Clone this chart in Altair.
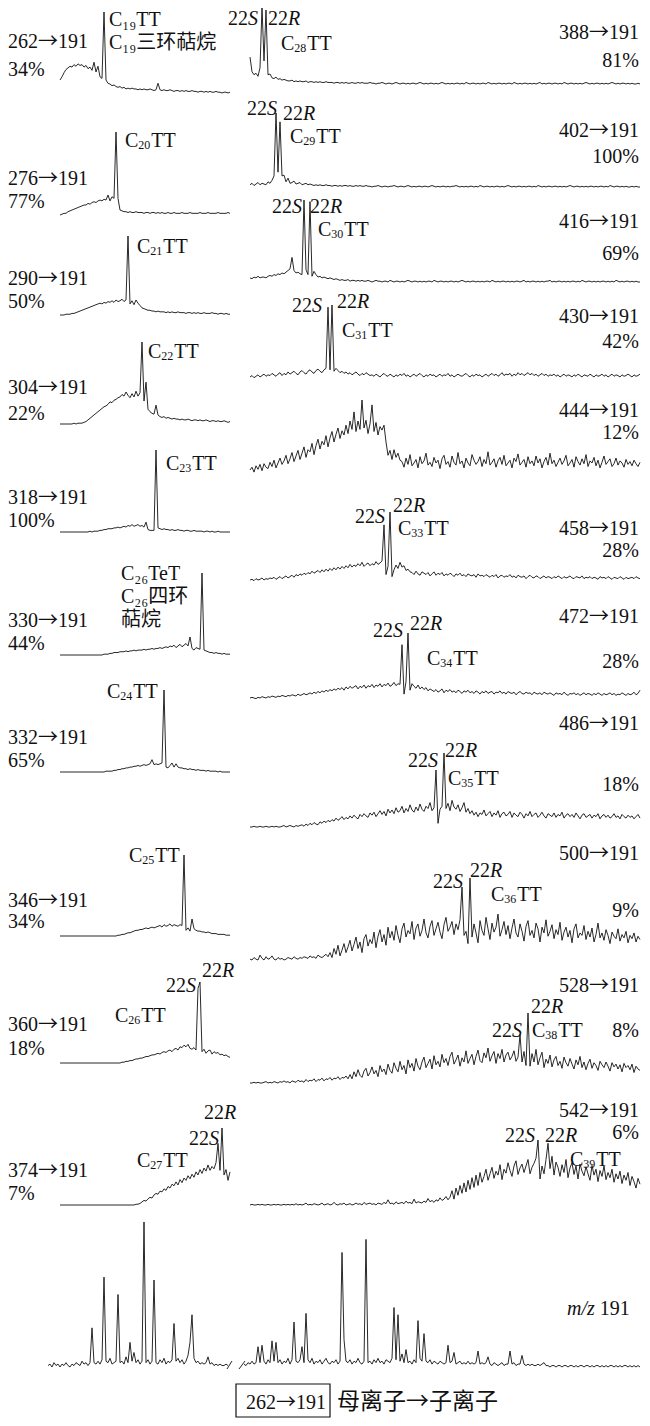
import altair as alt
import pandas as pd

# ---------------- data: relative intensity (% of tallest peak in each trace) -------------
# left column (retention window 1), 86 samples each
t262 = [16,20,25,29,31,33,32,35,33,36,34,35,32,34,30,32,28,38,26,33,20,18,
        100,
        16,12,11,9,10,8,7,8,6,7,5,6,5,
        6,5,5,4,5,4,5,4,4,5,4,3,4,
        12,
        4,3,4,3,3,4,3,2,3,3,2,3,2,3,2,2,3,2,2,1,2,2,1,2,1,2,1,1,2,1,1,0,1,1,0,1]
t276 = [0,1,2,2,4,5,6,7,8,9,10,11,
        12,12,14,13,15,16,15,17,18,17,19,18,
        24,17,22,20,
        100,20,6,
        5,4,4,3,4,3,3,4,3,3,3,2,3,3,2,3,3,2,3,2,3,2,2,3,2,2,3,2,2,2,
        3,2,2,2,3,2,2,2,2,3,2,2,2,3,2,2,2,2,3,2,2,2,2,3,2]
t290 = [0,0,0,1,1,1,
        2,2,3,4,5,6,7,8,9,10,
        11,12,13,14,15,14,16,15,17,16,
        18,16,19,17,18,20,17,19,
        100,
        14,18,13,19,15,12,
        9,8,7,6,6,5,5,4,5,4,
        4,4,3,4,3,4,3,3,4,3,3,3,2,3,3,2,3,2,3,2,2,3,2,2,2,3,2,2,1,2,2,1,2,1,1]
t304 = [0,0,0,0,0,0,0,1,0,1,1,1,2,
        3,5,7,9,11,13,15,17,
        19,21,22,24,27,26,29,30,32,33,
        36,34,39,35,32,37,33,40,34,38,
        100,28,51,
        18,15,13,12,
        23,
        11,9,8,9,7,8,7,6,7,6,6,5,6,5,5,6,5,4,5,5,4,5,4,4,5,4,3,4,4,3,4,3,3,4,3,2,3]
t318 = [0,0,0,0,0,0,0,0,0,0,0,0,0,0,0,1,0,1,
        1,1,2,2,3,3,4,4,4,5,5,6,5,6,7,
        6,8,7,9,7,8,9,7,8,6,
        12,
        3,2,2,2,
        100,
        5,4,3,4,
        3,3,2,3,2,2,3,2,2,1,2,2,1,1,2,1,1,1,1,0,1,1,0,1,0,0,1,0,0,0,0,0,0]
t330 = [0,0,0,0,0,0,0,0,0,0,0,0,0,0,0,0,0,0,0,0,0,0,1,1,1,2,
        2,3,3,3,4,4,4,5,4,5,5,6,5,6,6,
        6,7,6,7,7,8,7,8,8,9,8,9,10,9,11,10,12,9,11,13,10,12,14,11,
        22,
        8,6,9,8,7,
        100,
        6,5,4,3,3,2,3,2,2,1,2,1,1,1]
t332 = [0,0,0,0,0,0,0,0,0,0,0,0,0,0,0,0,0,0,0,0,0,0,0,1,1,
        1,1,2,2,3,3,4,4,5,5,6,6,7,7,8,7,8,9,
        8,9,10,
        15,
        9,10,9,10,11,
        100,
        6,5,8,11,6,10,
        6,5,5,4,4,3,4,3,3,2,3,2,2,2,1,2,1,1,1,1,0,1,0,0,0,0,0]
t346 = [0,0,0,0,0,0,0,0,0,0,0,0,0,0,0,0,0,0,0,0,0,0,0,0,0,0,0,0,0,1,1,
        2,2,3,4,4,5,6,7,7,8,8,9,10,9,10,11,10,11,12,
        13,11,14,12,13,15,12,14,13,12,14,13,
        100,
        7,10,6,
        21,
        9,7,6,6,5,5,4,5,4,3,3,3,2,2,2,2,1,1,1]
t360 = [0,0,0,0,0,0,0,0,0,0,0,0,0,0,0,0,0,0,0,0,0,0,0,0,0,0,0,0,0,0,0,1,1,
        2,2,3,3,4,5,5,6,6,7,8,8,9,10,10,11,12,11,13,14,13,15,16,14,17,18,16,20,19,22,
        20,23,18,17,19,16,
        92,100,
        14,17,12,15,16,11,14,12,13,10,11,9,10,8,7]
t374 = [0,0,0,0,0,0,0,0,0,0,0,0,0,0,0,0,0,0,0,0,0,0,0,0,0,0,0,0,0,0,0,0,0,0,0,0,0,0,1,1,2,
        4,6,5,8,10,9,13,15,14,18,17,21,19,24,22,27,25,30,26,33,29,35,32,38,34,40,36,43,39,46,
        41,48,44,52,45,50,47,55,
        80,45,100,
        39,46,32,43]

# right column (retention window 2), 196 samples each
t388 = [35,16,12,14,10,21,100,30,96,
        12,13,8,7,9,6,7,5,6,5,4,
        4,5,3,4,3,4,3,3,4,2,3,3,2,3,2,3,2,2,3,2,2,2,1,2,2,1,2,1,2,1,
        1,2,1,1,2,1,2,1,1,1,2,1,1,0,1,1,2,1,0,1,1,0,1,2,1,0,1,1,0,1,
        0,1,1,0,1,2,1,0,1,0,1,1,0,1,0,1,2,1,0,1,0,1,0,1,1,0,1,0,2,1,
        0,1,1,0,1,0,1,1,0,2,1,0,1,0,1,1,0,1,0,1,1,0,2,1,0,1,0,1,1,0,
        1,0,1,0,1,2,0,1,0,1,1,0,1,1,0,1,0,2,1,0,1,1,0,1,0,1,0,1,2,1,
        0,1,0,1,1,0,1,0,1,0,1,2,1,0,1,0,1,1,0,1,0,1,0,0,1,0]
t402 = [3,5,2,4,6,3,5,4,3,
        7,5,9,15,
        100,20,88,
        15,16,7,12,5,6,8,4,5,6,3,4,5,3,4,
        3,2,3,2,3,2,2,3,2,2,1,2,2,1,2,1,2,2,1,2,1,1,2,1,2,1,1,2,1,1,
        0,1,1,2,1,0,1,1,0,1,1,2,1,0,1,1,0,1,2,1,0,1,0,1,1,0,1,1,0,1,
        2,1,0,1,0,1,1,0,1,0,1,1,2,1,0,1,0,1,0,1,1,0,1,0,2,1,0,1,1,0,
        1,0,1,1,0,1,0,1,2,1,0,1,0,1,1,0,1,0,1,1,0,1,0,2,1,0,1,0,1,1,
        0,1,1,0,1,0,1,0,1,2,1,0,1,1,0,1,0,1,0,1,1,0,1,0,1,1,0,1,0,2,
        1,0,1,1,0,1,0,1,0,0,1,0,1,0,0]
t416 = [5,4,6,5,7,5,6,6,5,7,8,7,9,8,10,9,11,10,12,14,16,
        30,
        14,11,12,10,9,
        100,15,9,98,
        7,13,9,6,7,5,6,5,4,5,4,3,4,3,2,
        3,2,2,3,1,2,2,1,2,1,2,1,1,2,1,0,1,2,1,1,0,1,1,0,2,1,0,1,1,0,
        1,0,1,2,1,0,1,1,0,1,0,1,0,1,1,0,2,1,0,1,1,0,1,0,1,1,0,1,0,1,
        2,1,0,1,0,1,1,0,1,0,1,0,1,1,0,2,1,0,1,0,1,1,0,1,0,1,0,1,1,0,
        1,2,0,1,0,1,1,0,1,0,1,0,1,1,2,0,1,0,1,1,0,1,0,1,0,1,1,0,1,0,
        2,1,0,1,1,0,1,0,1,0,1,1,0,1,0,1,0,2,1,0,1,0,1,1,0,1,0,1,0,0]
t430 = [0,2,-1,1,3,0,2,4,1,3,2,5,3,1,4,6,2,5,3,7,4,6,8,5,3,7,9,6,4,8,
        10,7,5,9,11,8,6,10,12,
        97,10,100,
        8,12,9,6,8,5,7,4,6,3,5,7,4,2,5,3,6,4,2,
        3,1,4,2,0,3,5,2,1,4,2,0,3,1,4,2,5,1,3,0,2,4,1,3,5,2,0,3,1,4,
        2,3,0,2,4,1,3,2,5,1,3,0,2,4,2,1,3,5,2,0,3,1,4,2,3,0,2,4,1,3,
        5,2,4,1,3,6,2,4,3,5,1,4,2,6,3,5,2,4,6,3,5,2,4,1,3,5,2,4,1,3,
        2,4,1,3,0,2,4,1,3,2,0,3,1,4,2,0,3,2,1,4,2,0,3,1,2,4,1,3,0,2,
        4,1,3,2,0,3,1,2,4,2,0,3,1,2,4]
t444 = [0,4,-3,6,1,8,-1,9,4,2,11,5,14,3,10,17,8,13,21,9,
        16,25,12,20,28,15,24,33,18,29,26,38,22,35,44,30,41,36,49,33,
        46,55,40,51,60,45,56,50,64,52,70,58,
        83,55,70,58,100,60,71,52,66,93,55,68,50,62,57,64,40,
        21,28,15,29,18,24,14,
        12,4,17,8,22,6,10,15,3,19,9,13,24,7,11,5,18,10,14,2,
        16,21,8,12,4,20,11,7,25,9,13,3,17,10,6,22,14,8,12,19,
        5,15,9,26,7,11,16,4,13,18,8,21,6,10,14,3,17,12,23,7,
        11,15,4,19,9,13,6,20,10,16,3,12,18,7,24,9,14,5,11,17,
        8,13,21,6,10,15,4,19,12,7,16,9,22,5,13,10,18,6,14,3,
        11,20,8,12,16,5,9,17,7,13,10,4,15,8,12,6,14,9,5,11]
t458 = [0,1,-1,2,0,1,3,0,2,1,3,2,4,1,3,5,2,4,6,3,5,7,4,8,6,9,7,10,8,11,
        9,13,10,12,14,11,15,12,16,13,17,14,18,15,19,16,20,17,21,18,
        23,19,22,20,24,21,26,20,23,25,21,24,22,27,23,25,28,
        81,8,20,100,5,
        15,22,17,26,19,21,14,16,12,
        11,8,13,9,7,12,10,8,11,6,9,12,7,10,8,11,6,9,7,10,
        8,5,9,7,10,6,8,5,9,7,6,8,4,9,6,7,5,8,6,4,
        7,5,8,3,6,7,4,6,5,8,4,6,3,7,5,4,6,2,5,7,
        4,3,6,5,2,4,6,3,5,4,2,5,3,6,4,2,5,3,4,6,
        3,2,5,4,3,6,2,4,3,5,2,4,3,1,5,3,4,2,5,3,
        1,4,3,2,5,3,1,4,2,3,4,2,5,3,2]
t472 = [0,1,0,-1,1,0,2,1,0,2,1,3,2,1,3,2,4,3,2,4,3,5,4,3,6,4,5,7,5,6,
        8,6,9,7,10,8,11,9,12,10,13,11,14,12,15,13,16,12,17,14,
        18,15,17,19,14,18,16,20,15,19,17,21,16,20,18,22,17,21,19,23,
        18,20,24,19,22,21,
        82,6,25,100,
        12,22,18,15,20,14,17,13,16,11,14,
        12,10,13,9,11,14,8,12,10,13,9,11,8,12,10,7,11,9,12,8,
        10,7,11,9,6,10,8,11,7,9,10,6,9,8,11,7,9,6,10,8,
        7,9,5,8,10,7,6,9,7,8,5,9,7,6,8,5,9,7,6,8,
        6,4,8,6,7,5,9,6,4,7,6,8,5,7,4,6,8,5,7,6,
        4,7,5,8,6,4,7,5,6,8,5,7,4,6,5,8,6,4,7,5,
        6,9,5,7,12]
t486 = [0,0,1,0,0,1,0,0,1,0,0,1,0,1,0,0,1,2,0,1,2,1,0,2,1,
        2,3,1,4,2,5,3,6,4,3,7,5,8,6,9,7,10,8,12,9,11,14,10,13,11,15,12,16,13,11,
        17,14,18,15,13,19,16,20,14,18,22,17,21,15,24,19,23,18,26,20,
        22,28,19,25,21,30,23,20,27,22,31,24,21,28,25,33,22,26,
        77,5,24,28,100,
        25,32,22,36,27,24,30,21,26,33,20,25,18,
        22,16,20,14,19,17,23,15,18,21,14,19,16,22,13,18,20,15,17,21,
        13,19,16,14,20,17,12,18,15,21,14,17,19,13,16,20,15,12,18,16,
        14,19,13,17,15,20,12,16,18,14,17,13,19,15,11,16,18,13,15,17,
        12,16,14,18,11,15,17,13,16,12,14,18,13,15,11,17,14,12,16,13,
        15,11,14,17,12]
t500 = [1,0,3,1,0,6,2,0,4,1,2,5,1,0,3,1,2,0,1,3,2,1,4,2,1,3,2,4,3,2,
        5,3,4,2,6,4,3,5,7,4,
        9,3,14,7,18,5,12,20,9,16,24,11,19,28,14,22,9,26,31,17,
        25,20,34,15,29,37,22,31,18,40,27,35,24,42,30,21,38,45,28,36,
        32,47,25,39,44,29,36,50,33,27,41,48,30,38,46,34,26,43,52,35,
        40,47,31,44,37,49,
        89,30,35,20,100,
        28,44,33,21,48,36,30,52,38,25,45,34,40,56,29,37,47,31,42,26,
        39,50,33,28,44,35,23,41,48,30,36,27,45,38,22,40,33,49,29,35,
        43,26,37,31,46,24,34,40,28,36,21,38,44,27,33,30,42,25,35,28,
        39,22,31,45,27,33,24,37,30,20,34,29,26,38,23,31,27,35,21,30,
        26,33,22,29,25]
t528 = [0,0,1,0,1,0,0,1,2,0,1,0,2,1,0,2,1,3,1,2,0,3,2,1,4,2,3,1,5,2,
        4,3,6,2,5,4,7,3,6,5,8,4,7,6,9,5,8,7,10,6,
        12,6,16,9,19,11,8,17,21,10,15,23,13,18,9,25,16,20,12,27,
        18,14,29,21,16,31,19,25,13,33,22,28,17,35,24,19,30,37,22,28,
        34,20,39,26,31,23,41,29,35,25,38,44,27,33,40,24,36,30,46,28,
        35,41,26,38,47,32,29,43,36,50,31,39,45,28,42,35,48,30,40,44,
        33,38,46,31,37,
        69,30,45,25,100,
        24,42,30,48,26,36,44,22,34,28,40,23,33,38,25,31,21,37,29,24,
        35,27,20,33,26,38,22,30,19,28,34,21,29,25,18,31,26,22,30,24,
        17,29,23,27,20,26,16,28,22,25,19,27,15,24,20,18]
t542 = [0,1,0,0,1,0,1,0,0,1,0,0,1,0,1,0,0,1,0,1,0,1,0,2,0,1,0,1,3,0,
        1,0,2,1,0,1,3,0,1,2,0,1,4,1,0,2,1,3,0,1,2,0,1,3,1,2,0,4,1,2,
        3,1,2,0,3,2,1,4,2,8,2,3,1,5,2,3,4,2,6,3,4,2,9,3,5,4,3,6,4,10,
        5,7,4,8,6,11,7,9,13,8,
        12,22,9,26,15,30,18,34,20,38,24,42,27,46,30,50,35,44,55,38,
        48,58,41,52,46,62,39,55,49,65,53,44,60,68,47,57,63,50,60,70,
        48,58,64,72,
        100,40,60,48,70,95,
        56,75,46,66,58,44,62,50,70,42,57,65,47,60,40,63,52,45,59,48,
        38,61,46,55,36,53,44,60,39,50,42,55,35,48,40,52,33,46,38,50,
        30,44,36,26,41,32]

# m/z 191 total chromatogram, split at the axis break
mz_left = [1,2,0,3,1,2,0,2,1,3,1,0,2,1,3,2,1,4,2,3,1,3,
           27,3,2,4,2,5,62,4,3,6,2,3,4,50,3,4,2,7,3,17,4,10,3,5,2,4,
           100,3,5,2,4,60,3,2,5,3,6,2,4,3,5,30,4,6,3,5,2,4,8,17,36,
           6,3,4,2,3,2,3,7,2,3,1,2,1,2,1,1,2,1]
mz_right = [2,1,3,2,4,2,3,14,3,15,4,2,5,3,18,4,17,3,5,2,4,3,6,2,5,31,4,3,5,14,3,37,
            5,3,6,2,4,3,5,2,4,6,3,2,4,3,5,2,4,79,19,4,3,5,2,4,3,6,3,2,4,88,
            3,4,2,5,3,6,3,4,2,5,4,3,6,41,5,36,4,9,3,12,3,4,2,5,3,32,6,4,23,
            4,3,5,2,4,3,2,4,3,2,3,15,3,4,10,2,3,4,2,3,2,4,2,3,2,3,11,2,3,2,3,7,
            2,1,3,2,1,2,3,1,2,2,11,2,3,1,2,2,8,2,1,2,1,2,1,1,2,1,2,3,
            1,1,0,1,1,0,1,1,0,1,1,0,1,1,0,1,0,1,1,0,1,1,0,1,0,1,1,0,1,0,
            1,0,1,1,0,1,0,1,0,1,1,0,1,0,1,0,1,0]

left_parent = ["262", "276", "290", "304", "318", "330", "332", "346", "360", "374"]
left_pct = ["34%", "77%", "50%", "22%", "100%", "44%", "65%", "34%", "18%", "7%"]
right_parent = ["388", "402", "416", "430", "444", "458", "472", "486", "500", "528", "542"]
right_pct = ["81%", "100%", "69%", "42%", "12%", "28%", "28%", "18%", "9%", "8%", "6%"]
daughter = "191"
left_traces = [t262, t276, t290, t304, t318, t330, t332, t346, t360, t374]
right_traces = [t388, t402, t416, t430, t444, t458, t472, t486, t500, t528, t542]

# ---------------- layout (pixel geometry of the figure) ----------------
LEFT_X = (60, 230)
RIGHT_X = (250, 640)
left_base = [93, 215, 315, 424, 532, 655, 772, 936, 1063, 1205]
left_top = [12, 132, 236, 342, 450, 573, 690, 855, 982, 1128]
right_base = [84, 187, 282, 377, 470, 580, 698, 827, 960, 1083, 1205]
right_top = [7, 113, 200, 305, 400, 512, 633, 753, 878, 1013, 1140]
left_ion_y = [48, 185, 285, 394, 504, 627, 744, 907, 1031, 1177]
left_pct_y = [76, 208, 308, 420, 527, 650, 767, 928, 1055, 1200]
right_ion_y = [39, 137, 228, 323, 417, 535, 623, 730, 860, 992, 1117]
right_pct_y = [67, 163, 260, 348, 439, 557, 668, 791, 917, 1037, 1139]

rows = []
def add_trace(name, vals, x0, x1, base, top):
    n = len(vals)
    for i, v in enumerate(vals):
        rows.append({"trace": name, "i": i,
                     "x": x0 + i * (x1 - x0) / (n - 1),
                     "y": base - v / 100.0 * (base - top)})

for k, vals in enumerate(left_traces):
    add_trace("L" + left_parent[k], vals, LEFT_X[0], LEFT_X[1], left_base[k], left_top[k])
for k, vals in enumerate(right_traces):
    add_trace("R" + right_parent[k], vals, RIGHT_X[0], RIGHT_X[1], right_base[k], right_top[k])
add_trace("mz_left", mz_left, 48, 228, 1367, 1222)
add_trace("mz_right", mz_right, 244, 640, 1367, 1222)
trace_df = pd.DataFrame(rows)

# ---------------- text ----------------
FS = 20      # serif text
SUB = 12     # subscripts
CJ = 21      # Chinese text
EM_N = {"C": 0.667, "T": 0.611, "e": 0.444, "%": 0.833, " ": 0.25}
EM_I = {"S": 0.5, "R": 0.611, "m": 0.722, "/": 0.278, "z": 0.389}

text_rows = {"n": [], "it": [], "cjk": []}

def run_w(txt, kind, size):
    if kind == "n":
        return sum(EM_N.get(c, 0.5) for c in txt) * size
    if kind == "sub":
        return sum(EM_N.get(c, 0.5) for c in txt) * size + 1
    if kind == "it":
        return sum(EM_I.get(c, 0.5) for c in txt) * size
    return len(txt) * size

def label(runs, x, y):
    cx = x
    for run in runs:
        txt, kind = run[0], run[1]
        size = run[2] if len(run) > 2 else {"n": FS, "sub": SUB, "it": FS, "cjk": CJ}[kind]
        if kind == "sub":
            text_rows["n"].append({"x": cx, "y": y + 2, "t": txt, "s": size})
        elif kind == "n":
            text_rows["n"].append({"x": cx, "y": y, "t": txt, "s": size})
        elif kind == "it":
            text_rows["it"].append({"x": cx, "y": y, "t": txt, "s": size})
        else:
            text_rows["cjk"].append({"x": cx, "y": y, "t": txt, "s": size})
        cx += run_w(txt, kind, size)

def ion_runs(parent):
    return [(parent, "n"), ("→", "cjk", FS), (daughter, "n")]

def ctt(num, x, y, tail="TT"):
    label([("C", "n"), (num, "sub"), (tail, "n")], x, y)

def s22(letter, x, y):
    label([("22", "n"), (letter, "it")], x, y)

# stacked multi-line names (one text each, Unicode subscripts)
stack_rows = [
    {"x": 109, "y": 26, "t": "C\u2081\u2089TT\nC\u2081\u2089三环萜烷", "s": FS},
    {"x": 121, "y": 580, "t": "C\u2082\u2086TeT\nC\u2082\u2086四环\n萜烷", "s": FS},
]

# left column compound labels
ctt("20", 125, 147)
ctt("21", 137, 253)
ctt("22", 148, 358)
ctt("23", 166, 470)
ctt("24", 107, 698)
ctt("25", 129, 862)
s22("S", 166, 992); s22("R", 202, 977); ctt("26", 115, 1022)
s22("R", 204, 1119); s22("S", 189, 1145); ctt("27", 137, 1167)
# right column compound labels
s22("S", 228, 25); s22("R", 268, 25); ctt("28", 281, 50)
s22("S", 247, 115); s22("R", 283, 120); ctt("29", 290, 143)
s22("S", 272, 213); s22("R", 310, 213); ctt("30", 318, 236)
s22("S", 292, 312); s22("R", 337, 308); ctt("31", 342, 337)
s22("S", 355, 523); s22("R", 393, 512); ctt("33", 398, 535)
s22("S", 373, 637); s22("R", 410, 630); ctt("34", 427, 665)
s22("S", 408, 767); s22("R", 445, 757); ctt("35", 448, 785)
s22("S", 433, 888); s22("R", 470, 877); ctt("36", 491, 901)
s22("R", 531, 1013); s22("S", 492, 1037); ctt("38", 532, 1037)
s22("S", 505, 1142); s22("R", 545, 1142); ctt("39", 570, 1166)
label([("m/z", "it"), (" ", "n"), ("191", "n")], 567, 1315)
label(ion_runs("262"), 246, 1409)
label([("母离子→子离子", "cjk", 23)], 337, 1409)

for k in range(len(left_parent)):
    label(ion_runs(left_parent[k]), 8, left_ion_y[k])
    text_rows["n"].append({"x": 8, "y": left_pct_y[k], "t": left_pct[k], "s": FS})
right_rows = []
for k in range(len(right_parent)):
    runs = ion_runs(right_parent[k])
    w = sum(run_w(r[0], r[1], r[2] if len(r) > 2 else FS) for r in runs)
    label(runs, 639 - w, right_ion_y[k])
    right_rows.append({"x": 639, "y": right_pct_y[k], "t": right_pct[k], "s": FS})

# ---------------- chart ----------------
XS = alt.Scale(domain=[8, 642], nice=False, zero=False)
YS = alt.Scale(domain=[8, 1418], nice=False, zero=False, reverse=True)
X = alt.X("x:Q", scale=XS, axis=None)
Y = alt.Y("y:Q", scale=YS, axis=None)

lines = alt.Chart(trace_df).mark_line(color="#111111", strokeWidth=0.9).encode(
    x=X, y=Y, detail="trace:N", order="i:Q")

break_df = pd.DataFrame({"x": [227, 239], "x2": [232, 245], "y": [1369, 1369], "y2": [1361, 1361]})
breaks = alt.Chart(break_df).mark_rule(color="#111111", strokeWidth=0.9).encode(
    x=X, y=Y, x2="x2:Q", y2="y2:Q")

box_df = pd.DataFrame({"x": [236], "x2": [330], "y": [1384], "y2": [1417]})
box = alt.Chart(box_df).mark_rect(fillOpacity=0, stroke="#111111", strokeWidth=1.2).encode(
    x=X, y=Y, x2="x2:Q", y2="y2:Q")

def text_layer(rows_, font, style="normal", align="left", **kw):
    return alt.Chart(pd.DataFrame(rows_)).mark_text(
        align=align, baseline="alphabetic", font=font, fontStyle=style, color="#111111", **kw
    ).encode(x=X, y=Y, text="t:N", size=alt.Size("s:Q", scale=None))

SERIF = "Liberation Serif"
CJK = "Noto Sans CJK SC"
layers = [lines, breaks, box,
          text_layer(text_rows["n"], SERIF),
          text_layer(text_rows["it"], SERIF, "italic"),
          text_layer(text_rows["cjk"], CJK),
          text_layer(stack_rows, "Liberation Serif, Noto Sans CJK SC", lineBreak="\n", lineHeight=23),
          text_layer(right_rows, SERIF, "normal", "right")]

chart = alt.layer(*layers).properties(
    width=634, height=1410, padding=0,
    autosize=alt.AutoSizeParams(type="none")
).configure_view(stroke=None)

chart.save("out.html", embed_options={"renderer": "svg", "actions": False})
